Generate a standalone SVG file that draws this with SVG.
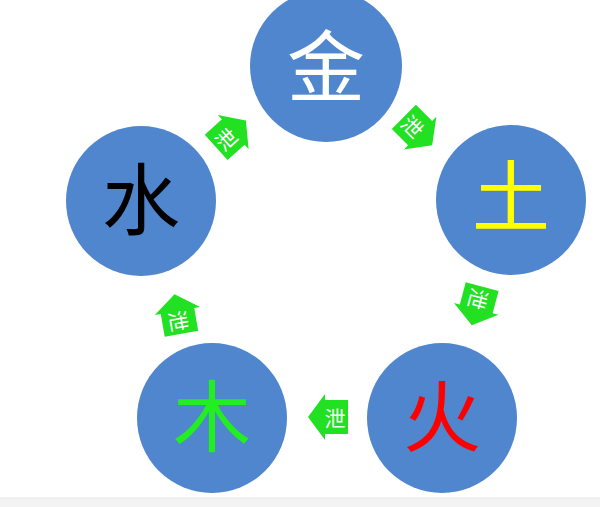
<svg xmlns="http://www.w3.org/2000/svg" xmlns:xlink="http://www.w3.org/1999/xlink" width="600" height="507" viewBox="0 0 600 507">
<style>
.c{fill:#4f86cd}
.big{font-family:"Noto Sans CJK SC","Noto Sans CJK TC",sans-serif;font-size:78px;text-anchor:middle;dominant-baseline:central}
.lbl{font-family:"Noto Sans CJK SC",sans-serif;font-size:21px;fill:#ffffff;text-anchor:middle;dominant-baseline:central}
.arr{fill:#22e022}
</style>
<defs>
<path id="ar" d="M-20,-17 L3,-17 L3,-23 L20,0 L3,23 L3,17 L-20,17 Z"/>
</defs>
<rect x="0" y="0" width="600" height="507" fill="#ffffff"/>
<rect x="0" y="498" width="600" height="9" fill="#f3f3f3"/>
<line x1="0" y1="498" x2="600" y2="498" stroke="#e8e8e8" stroke-width="1"/>
<g id="jin"><circle class="c" cx="326" cy="66" r="76"/><text class="big" x="326" y="62" fill="#ffffff">金</text></g>
<g id="tu"><circle class="c" cx="511" cy="200" r="75"/><text class="big" x="511" y="192" fill="#ffff00">土</text></g>
<g id="huo"><circle class="c" cx="442" cy="418" r="75"/><text class="big" x="442" y="412" fill="#ff0000">火</text></g>
<g id="mu"><circle class="c" cx="212" cy="418" r="75"/><text class="big" x="212" y="412" fill="#22ee22">木</text></g>
<g id="shui"><circle class="c" cx="141" cy="201" r="75"/><text class="big" x="141" y="195" fill="#000000">水</text></g>
<g id="connectors">
<g transform="translate(231,134) rotate(-42)"><use xlink:href="#ar" href="#ar" class="arr"/><text class="lbl" x="-7" y="0">泄</text></g>
<g transform="translate(418,131) rotate(45)"><use xlink:href="#ar" href="#ar" class="arr"/><text class="lbl" x="-7" y="0">泄</text></g>
<g transform="translate(477,306) rotate(105)"><use xlink:href="#ar" href="#ar" class="arr"/><text class="lbl" x="-7" y="0">泄</text></g>
<g transform="translate(328,417) rotate(180)"><use xlink:href="#ar" href="#ar" class="arr"/><text class="lbl" x="-7" y="0" transform="rotate(180 -7 0)">泄</text></g>
<g transform="translate(178,314) rotate(-100)"><use xlink:href="#ar" href="#ar" class="arr"/><text class="lbl" x="-7" y="0" transform="rotate(180 -7 0)">泄</text></g>
</g>
</svg>
